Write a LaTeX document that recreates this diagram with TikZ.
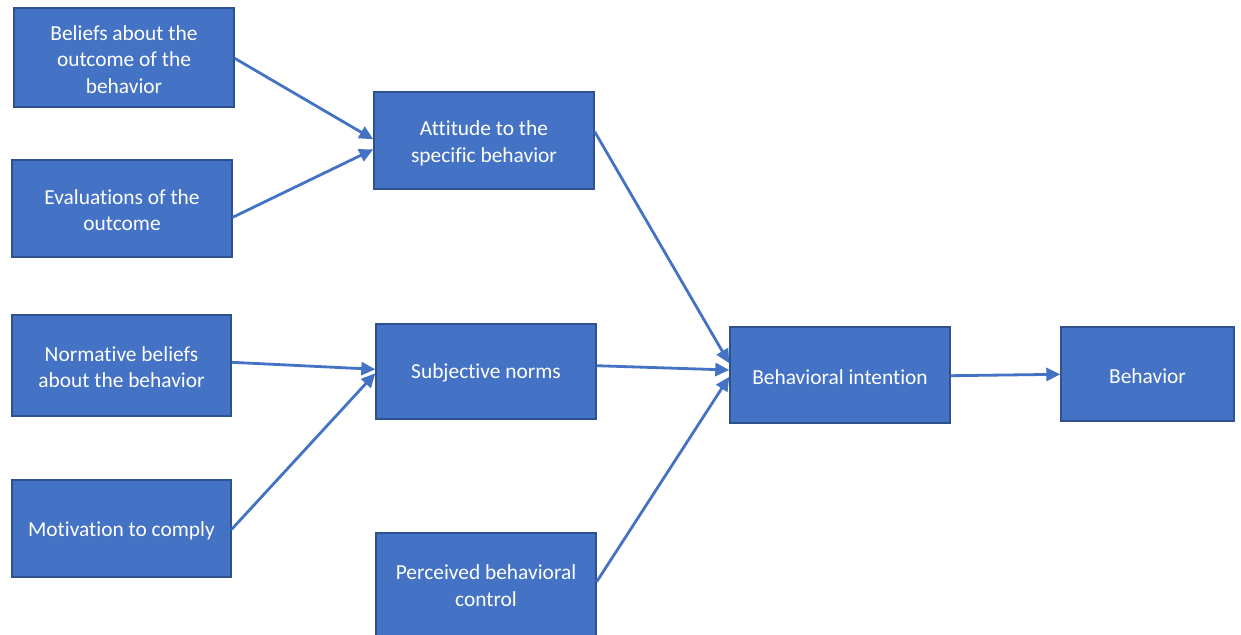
\documentclass[tikz,border=0pt]{standalone}
\usepackage{fontspec}
\setmainfont{Carlito}[RawFeature={-liga}]
\usetikzlibrary{arrows.meta}
\definecolor{boxfill}{HTML}{4472C4}
\definecolor{boxline}{HTML}{2F528F}
\definecolor{arrowc}{HTML}{4472C4}
\begin{document}
\begin{tikzpicture}[x=1pt,y=-1pt,
  box/.style={draw=boxline,line width=1.4pt,fill=boxfill,inner sep=0pt},
  txt/.style={text=white,align=center,inner sep=0pt,yshift=-1.8pt,
    font=\fontsize{21.4}{26.5}\selectfont},
  conn/.style={draw=arrowc,line width=2.8pt,
    -{Triangle[length=14pt,width=13pt]}}]
\useasboundingbox (0,0) rectangle (1241,634);
\fill[white] (0,0) rectangle (1241,634);
\node[box,minimum width=220pt,minimum height=99pt,label={[txt]center:Beliefs about the\\outcome of the\\behavior}] (bel) at (124,57.5) {};
\node[box,minimum width=220pt,minimum height=97pt,label={[txt]center:Evaluations of the\\outcome}] (eva) at (122,208.5) {};
\node[box,minimum width=219pt,minimum height=101pt,label={[txt]center:Normative beliefs\\about the behavior}] (nor) at (121.5,365.5) {};
\node[box,minimum width=219pt,minimum height=97pt,label={[txt]center:Motivation to comply}] (mot) at (121.5,528.5) {};
\node[box,minimum width=220pt,minimum height=97pt,label={[txt,yshift=-1.2pt]center:Attitude to the\\specific behavior}] (att) at (484,140.5) {};
\node[box,minimum width=220pt,minimum height=95pt,label={[txt]center:Subjective norms}] (sub) at (486,371.5) {};
\node[box,minimum width=220pt,minimum height=107pt,label={[txt,yshift=2.6pt]center:Perceived behavioral\\control}] (per) at (486,586.5) {};
\node[box,minimum width=220pt,minimum height=96pt,label={[txt]center:Behavioral intention}] (int) at (840,375) {};
\node[box,minimum width=173pt,minimum height=94pt,label={[txt]center:Behavior}] (beh) at (1147.5,374) {};
\draw[conn] ([yshift=-0.8pt]bel.east) -- ([yshift=1.2pt]att.west);
\draw[conn] ([yshift=-8.8pt]eva.east) -- ([yshift=-8.8pt]att.west);
\draw[conn] ([yshift=3.2pt]nor.east) -- ([yshift=2.2pt]sub.west);
\draw[conn] ([yshift=-0.8pt]mot.east) -- ([yshift=-1.8pt]sub.west);
\draw[conn] ([yshift=8.8pt]att.east) -- ([yshift=11.7pt]int.west);
\draw[conn] ([yshift=5.8pt]sub.east) -- ([yshift=5pt]int.west);
\draw[conn] ([yshift=4.8pt]per.east) -- ([yshift=-1.7pt]int.west);
\draw[conn] ([yshift=-0.7pt]int.east) -- ([yshift=-0.3pt]beh.west);
\end{tikzpicture}
\end{document}
